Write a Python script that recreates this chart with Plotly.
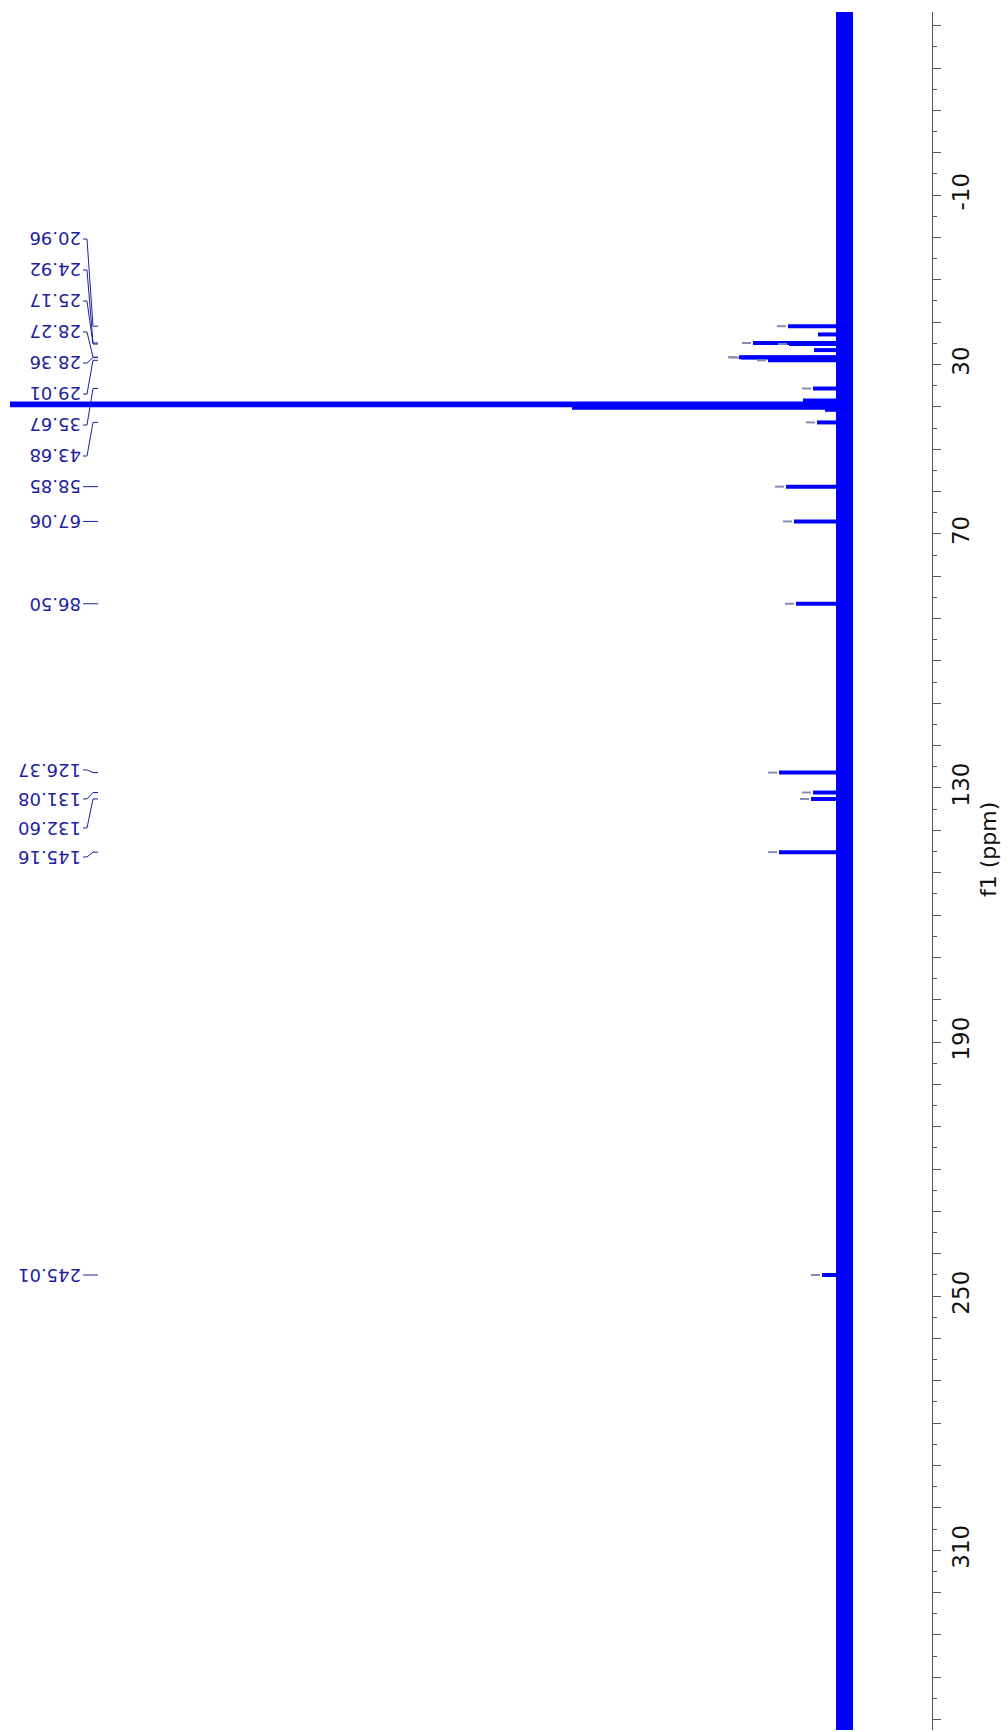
import plotly.graph_objects as go

# ---------------- data ----------------
# labelled peaks: chemical shift (ppm) and relative height (a.u.)
label_ppm = [20.96, 24.92, 25.17, 28.27, 28.36, 29.01, 35.67, 43.68,
             58.85, 67.06, 86.50, 126.37, 131.08, 132.60, 145.16, 245.01]
label_height = [55, 90, 54, 104, 102, 75, 30, 26,
                57, 49, 47, 64, 30, 32, 64, 21]
# where each label text sits along the ppm axis (spread out by the software)
label_pos = [0.37, 7.69, 15.01, 22.33, 29.65, 36.97, 44.29, 51.61,
             58.85, 67.06, 86.50, 125.74, 132.59, 139.44, 146.29, 245.01]

# unlabelled lines (solvent multiplet and small signals)
other_ppm = [22.9, 26.6, 38.5, 39.2, 39.6, 40.2, 40.7]
other_height = [25, 29, 40, 833, 833, 271, 18]

# baseline noise band limits (a.u.) and spectral window (ppm)
noise_lo, noise_hi = -10, 7
spec_ppm = [-54.5, 353.0]

# axis ticks
tick_major = list(range(-50, 351, 10))
tick_labelled = [-10, 30, 70, 130, 190, 250, 310]
tick_minor = list(range(-45, 351, 10))

# ---------------- figure ----------------
BLUE = "#0000ff"
LBL = "#1f1f9e"
MARK = "#8a8ab8"
PLOT_W = 932   # px width of the plotting area
PLOT_H = 1718  # px height of the plotting area

fig = go.Figure()

# baseline noise band
fig.add_trace(go.Scatter(
    x=[(noise_lo + noise_hi) / 2] * 2, y=spec_ppm, mode="lines",
    line=dict(color=BLUE, width=noise_hi - noise_lo), hoverinfo="skip"))

# peaks
px, py = [], []
for p, h in zip(other_ppm + label_ppm, other_height + label_height):
    px += [0, h, None]
    py += [p, p, None]
fig.add_trace(go.Scatter(x=px, y=py, mode="lines",
                         line=dict(color=BLUE, width=4), hoverinfo="skip"))

# peak-top markers
mx, my = [], []
for p, h in zip(label_ppm, label_height):
    mx += [h + 2, h + 11, None]
    my += [p, p, None]
fig.add_trace(go.Scatter(x=mx, y=my, mode="lines",
                         line=dict(color=MARK, width=2), hoverinfo="skip"))

# labels and connectors
shapes = []
for v, pos in zip(label_ppm, label_pos):
    fig.add_annotation(
        x=83 / PLOT_W, xref="paper", y=pos, yref="y",
        text=f"{v:.2f}", showarrow=False, textangle=180,
        xanchor="right", yanchor="middle",
        font=dict(family="DejaVu Sans", size=18, color=LBL))
    path = (f"M {83/PLOT_W},{pos} L {87/PLOT_W},{pos} "
            f"L {93/PLOT_W},{v} L {98/PLOT_W},{v}")
    shapes.append(dict(type="path", xref="paper", yref="y", path=path,
                       line=dict(color=LBL, width=1)))

# axis title
fig.add_annotation(
    x=988 / PLOT_W, xref="paper", y=1 - (850 - 12) / PLOT_H, yref="paper",
    text="f1 (ppm)", showarrow=False, textangle=-90,
    xanchor="center", yanchor="middle",
    font=dict(family="DejaVu Sans", size=22, color="#111111"))

fig.update_layout(
    width=1008, height=1732,
    margin=dict(l=0, r=76, t=12, b=2),
    paper_bgcolor="white", plot_bgcolor="white",
    showlegend=False, shapes=shapes,
    xaxis=dict(visible=False, range=[843, 843 - PLOT_W]),
    yaxis=dict(
        side="right", range=[352.46, -53.24], automargin=False,
        showgrid=False, zeroline=False,
        showline=True, linecolor="#555555", linewidth=1,
        ticks="outside", ticklen=8, tickcolor="#555555",
        tickmode="array", tickvals=tick_major,
        ticktext=[str(t) if t in tick_labelled else "" for t in tick_major],
        tickangle=-90,
        tickfont=dict(family="DejaVu Sans", size=23, color="#111111"),
        minor=dict(tickmode="array", tickvals=tick_minor, ticklen=4,
                   tickcolor="#555555", ticks="outside"),
    ),
)

fig.write_html("out.html",
               config={"displayModeBar": False},
               post_script="document.body.style.margin='0';"
                           "document.body.style.overflow='hidden';")
